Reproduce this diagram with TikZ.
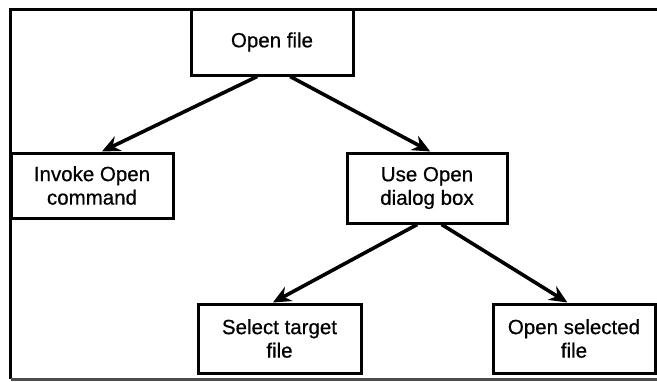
\documentclass[tikz,border=0pt]{standalone}
\usepackage{fontspec}
\setmainfont{Liberation Sans}[FakeBold=0.6]
\usetikzlibrary{arrows.meta,calc}
\begin{document}
\begin{tikzpicture}[x=1pt,y=-1pt,
  box/.style={draw, line width=3pt, align=center, inner sep=0pt,
    font=\fontsize{20.5}{23.5}\selectfont},
  link/.style={line width=3.6pt, -{Stealth[length=18pt,width=16pt,inset=6pt]}}]
\useasboundingbox (0,0) rectangle (657,381);
% outer frame, open on the right
\draw[line width=3pt] (657,9) -- (10.5,9) -- (10.5,379);
\draw[line width=3pt, black!70] (10.5,379) -- (657,379);
% task boxes
\node[box, minimum width=162pt, minimum height=66pt] (open) at (272,42) {Open file};
\node[box, minimum width=162pt, minimum height=65pt] (invoke) at (92,185.5) {Invoke Open\\command};
\node[box, minimum width=160pt, minimum height=70pt] (dialog) at (427,188) {Use Open\\dialog box};
\node[box, minimum width=163pt, minimum height=69pt] (select) at (279.5,338.5) {Select target\\file};
\node[box, minimum width=162pt, minimum height=69pt] (opensel) at (574,338.5) {Open selected\\file};
% connectors
\draw[link] ($(open.south west)!0.41!(open.south east)$) -- ($(invoke.north west)!0.56!(invoke.north east)$);
\draw[link] ($(open.south west)!0.61!(open.south east)$) -- ($(dialog.north west)!0.52!(dialog.north east)$);
\draw[link] ($(dialog.south west)!0.44!(dialog.south east)$) -- ($(select.north west)!0.46!(select.north east)$);
\draw[link] ($(dialog.south west)!0.59!(dialog.south east)$) -- ($(opensel.north west)!0.46!(opensel.north east)$);
\end{tikzpicture}
\end{document}
